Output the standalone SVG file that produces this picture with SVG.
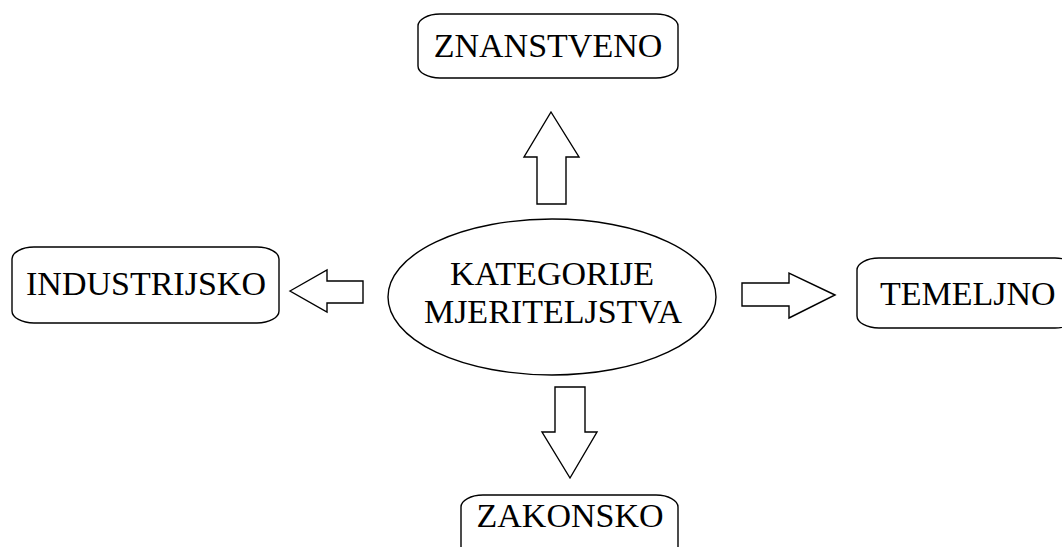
<svg xmlns="http://www.w3.org/2000/svg" width="1062" height="547" viewBox="0 0 1062 547">
<style>
.box{fill:#fff;stroke:#000;stroke-width:1.4}
.arr{fill:#fff;stroke:#000;stroke-width:1.4;stroke-linejoin:miter}
.t{font-family:"Liberation Serif","Times New Roman",serif;font-size:34px;fill:#000}
</style>
<rect width="1062" height="547" fill="#fff"/>
<g id="znanstveno">
<rect class="box" x="418" y="14" width="260" height="64" rx="22" ry="12"/>
<text class="t" x="548" y="57" text-anchor="middle">ZNANSTVENO</text>
</g>
<g id="industrijsko">
<rect class="box" x="12" y="247" width="267" height="76" rx="22" ry="12"/>
<text class="t" x="146" y="295" text-anchor="middle">INDUSTRIJSKO</text>
</g>
<g id="kategorije">
<ellipse class="box" cx="552" cy="297" rx="164" ry="78"/>
<text class="t" x="552" y="285" text-anchor="middle">KATEGORIJE</text>
<text class="t" x="553" y="323" text-anchor="middle">MJERITELJSTVA</text>
</g>
<g id="temeljno">
<rect class="box" x="857" y="258" width="220" height="70" rx="22" ry="12"/>
<text class="t" x="880" y="305">TEMELJNO</text>
</g>
<g id="zakonsko">
<rect class="box" x="461" y="495" width="217" height="80" rx="22" ry="12"/>
<text class="t" x="570" y="527" text-anchor="middle">ZAKONSKO</text>
</g>
<g id="connectors">
<polygon class="arr" points="551,112 579,157 566,157 566,204 537,204 537,157 524,157"/>
<polygon class="arr" points="290,291 327,270 327,281 363,281 363,303 327,303 327,312"/>
<polygon class="arr" points="835,295 789,273 789,283 742,283 742,306 789,306 789,318"/>
<polygon class="arr" points="570,478 597,432 585,432 585,387 555,387 555,432 542,432"/>
</g>
</svg>
